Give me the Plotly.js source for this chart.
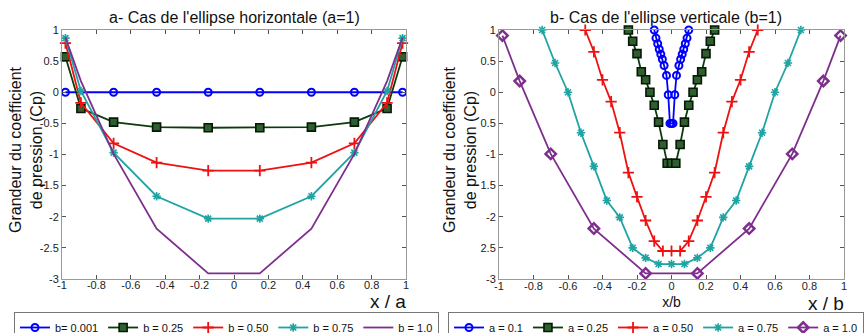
<!DOCTYPE html>
<html>
<head>
<meta charset="utf-8">
<script src="https://cdn.plot.ly/plotly-3.0.1.min.js"></script>
<style>html,body{margin:0;padding:0;background:#fff;}#chart{width:864px;height:333px;}</style>
</head>
<body>
<div id="chart"></div>
<script>
// ---------- Panel a : horizontal ellipse (a = 1) ----------
const xA8  = [-0.98, -0.70, -0.45, -0.15, 0.15, 0.45, 0.70, 0.98];
const xA10 = [-0.98, -0.89, -0.70, -0.45, -0.15, 0.15, 0.45, 0.70, 0.89, 0.98];
const cpB001 = [0, 0, 0, 0, 0, 0, 0, 0];
const cpB025 = [0.57, -0.26, -0.48, -0.56, -0.57, -0.57, -0.56, -0.48, -0.26, 0.57];
const cpB050 = [0.79, -0.17, -0.82, -1.13, -1.26, -1.26, -1.13, -0.82, -0.17, 0.79];
const cpB075 = [0.87, 0.02, -0.97, -1.67, -2.03, -2.03, -1.67, -0.97, 0.02, 0.87];
const cpB100 = [0.88, 0.18, -0.99, -2.19, -2.91, -2.91, -2.19, -0.99, 0.18, 0.88];
const namesA = ["b= 0.001", "b = 0.25", "b = 0.50", "b = 0.75", "b = 1.0"];

// ---------- Panel b : vertical ellipse (b = 1) ----------
const xB01  = [-0.10, -0.09, -0.08, -0.071, -0.062, -0.053, -0.043, -0.029, -0.019, -0.009, 0, 0.009, 0.019, 0.029, 0.043, 0.053, 0.062, 0.071, 0.08, 0.09, 0.10];
const cpA01 = [1.0, 0.87, 0.78, 0.69, 0.61, 0.53, 0.43, 0.27, -0.04, -0.50, -0.50, -0.50, -0.04, 0.27, 0.43, 0.53, 0.61, 0.69, 0.78, 0.87, 1.0];
const xB025 = [-0.25, -0.225, -0.2, -0.175, -0.15, -0.125, -0.1, -0.075, -0.05, -0.025, 0, 0.025, 0.05, 0.075, 0.1, 0.125, 0.15, 0.175, 0.2, 0.225, 0.25];
const cpA025 = [1.0, 0.82, 0.62, 0.33, 0.20, 0.0, -0.21, -0.48, -0.84, -1.14, -1.14, -1.14, -0.84, -0.48, -0.21, 0.0, 0.20, 0.33, 0.62, 0.82, 1.0];
const xB050 = [-0.5, -0.45, -0.4, -0.35, -0.3, -0.25, -0.2, -0.15, -0.1, -0.05, 0, 0.05, 0.1, 0.15, 0.2, 0.25, 0.3, 0.35, 0.4, 0.45, 0.5];
const cpA050 = [1.0, 0.65, 0.20, -0.15, -0.65, -1.29, -1.68, -2.06, -2.39, -2.55, -2.55, -2.55, -2.39, -2.06, -1.68, -1.29, -0.65, -0.15, 0.20, 0.65, 1.0];
const xB075 = [-0.75, -0.675, -0.6, -0.525, -0.45, -0.375, -0.3, -0.225, -0.15, -0.075, 0, 0.075, 0.15, 0.225, 0.3, 0.375, 0.45, 0.525, 0.6, 0.675, 0.75];
const cpA075 = [1.0, 0.47, 0.0, -0.65, -1.19, -1.74, -2.01, -2.50, -2.66, -2.76, -2.76, -2.76, -2.66, -2.50, -2.01, -1.74, -1.19, -0.65, 0.0, 0.47, 1.0];
const xB100 = [-0.98, -0.88, -0.70, -0.45, -0.15, 0.15, 0.45, 0.70, 0.88, 0.98];
const cpA100 = [0.91, 0.18, -0.99, -2.19, -2.91, -2.91, -2.19, -0.99, 0.18, 0.91];
const namesB = ["a = 0.1", "a = 0.25", "a = 0.50", "a = 0.75", "a = 1.0"];

// ---------- ticks ----------
const xTickVals = [-1, -0.8, -0.6, -0.4, -0.2, 0, 0.2, 0.4, 0.6, 0.8, 1];
const xTickText = ["-1", "-0.8", "-0.6", "-0.4", "-0.2", "0", "0.2", "0.4", "0.6", "0.8", "1"];
const yTickVals = [-3, -2.5, -2, -1.5, -1, -0.5, 0, 0.5, 1];
const yTickTextA = ["-3", "-2.5", "-2", "-1.5", "-1", "-0.5", "0", "0.5", "1"];
const yTickTextB = ["-3", "2.5", "-2", "1.5", "-1", "0.5", "0", "0.5", "1"];

const C = {blue: "#0000ff", green: "#0d3a0d", red: "#ee1111", teal: "#1fa3a3", purple: "#7e2f8e"};

function tr(x, y, name, color, marker, xa, ya, leg) {
  const t = {x: x, y: y, name: name, type: "scatter", xaxis: xa, yaxis: ya, legend: leg,
    line: {color: color, width: 1.8}, cliponaxis: false};
  if (marker) { t.mode = "lines+markers"; t.marker = marker; } else { t.mode = "lines"; }
  return t;
}

const mk = {
  circ: {symbol: "circle-open", size: 7, color: C.blue, line: {width: 2, color: C.blue}},
  sq: {symbol: "square", size: 8, color: "#2f5f2f", line: {width: 1.6, color: "#061806"}},
  plus: {symbol: "cross-thin-open", size: 8, color: C.red, line: {width: 1.8, color: C.red}},
  star: {symbol: "asterisk-open", size: 7, color: C.teal, line: {width: 1.6, color: C.teal}},
  dia: {symbol: "diamond-open", size: 8, color: C.purple, line: {width: 2.5, color: C.purple}}
};

const data = [
  tr(xA8, cpB001, namesA[0], C.blue, mk.circ, "x", "y", "legend"),
  tr(xA10, cpB025, namesA[1], C.green, mk.sq, "x", "y", "legend"),
  tr(xA10, cpB050, namesA[2], C.red, mk.plus, "x", "y", "legend"),
  tr(xA10, cpB075, namesA[3], C.teal, mk.star, "x", "y", "legend"),
  tr(xA10, cpB100, namesA[4], C.purple, null, "x", "y", "legend"),
  tr(xB01, cpA01, namesB[0], C.blue, mk.circ, "x2", "y2", "legend2"),
  tr(xB025, cpA025, namesB[1], C.green, mk.sq, "x2", "y2", "legend2"),
  tr(xB050, cpA050, namesB[2], C.red, mk.plus, "x2", "y2", "legend2"),
  tr(xB075, cpA075, namesB[3], C.teal, mk.star, "x2", "y2", "legend2"),
  tr(xB100, cpA100, namesB[4], C.purple, mk.dia, "x2", "y2", "legend2")
];

const FONT = "Arial, 'Liberation Sans', sans-serif";
const L = 62, R = 20, T = 30, B = 54, W = 864, H = 333;
const PW = W - L - R, PH = H - T - B;
const px = p => (p - L) / PW;
const py = p => (H - B - p) / PH;

function xax(domain, ticktext, standoff) {
  return {domain: domain, range: [-1, 1], tickmode: "array", tickvals: xTickVals, ticktext: ticktext,
    ticks: "inside", ticklen: 4, tickcolor: "#555", showline: true, linecolor: "#999", linewidth: 1,
    mirror: "ticks", showgrid: false, zeroline: false, ticklabelstandoff: standoff,
    tickfont: {family: FONT, size: 11, color: "#222"}};
}
function yax(anchor, ticktext) {
  return {anchor: anchor, range: [-3, 1], tickmode: "array", tickvals: yTickVals, ticktext: ticktext,
    ticks: "inside", ticklen: 4, tickcolor: "#555", showline: true, linecolor: "#999", linewidth: 1,
    mirror: "ticks", showgrid: false, zeroline: false, tickfont: {family: FONT, size: 11, color: "#222"}};
}

const xaxis = xax([0, px(406)], xTickText, -4); xaxis.anchor = "y";
const xaxis2 = xax([px(499), 1], xTickText, -3); xaxis2.anchor = "y2";
xaxis2.title = {text: "x/b", font: {family: FONT, size: 14, color: "#111"}, standoff: 5};

const legBase = {orientation: "h", bgcolor: "#fff", bordercolor: "#777", borderwidth: 1,
  font: {family: FONT, size: 11, color: "#111"}, yanchor: "top", xanchor: "left", itemclick: false};

const layout = {
  width: W, height: H,
  margin: {l: L, r: R, t: T, b: B, autoexpand: false},
  paper_bgcolor: "#fff", plot_bgcolor: "#fff",
  font: {family: FONT},
  xaxis: xaxis, yaxis: yax("x", yTickTextA),
  xaxis2: xaxis2, yaxis2: yax("x2", yTickTextB),
  legend: Object.assign({}, legBase, {x: px(14), y: py(312)}),
  legend2: Object.assign({}, legBase, {x: px(448), y: py(312)}),
  annotations: [
    {text: "a- Cas de l'ellipse horizontale (a=1)", xref: "paper", yref: "paper", x: px(234), y: py(17),
      xanchor: "center", yanchor: "middle", showarrow: false, font: {family: FONT, size: 16, color: "#111"}},
    {text: "b- Cas de l'ellipse verticale (b=1)", xref: "paper", yref: "paper", x: px(666), y: py(17),
      xanchor: "center", yanchor: "middle", showarrow: false, font: {family: FONT, size: 16, color: "#111"}},
    {text: "Grandeur du coefficient<br>de pression (Cp)", xref: "paper", yref: "paper", x: px(26), y: py(150),
      xanchor: "center", yanchor: "middle", textangle: -90, showarrow: false,
      font: {family: FONT, size: 16, color: "#111"}},
    {text: "Grandeur du coefficient<br>de pression (Cp)", xref: "paper", yref: "paper", x: px(460), y: py(150),
      xanchor: "center", yanchor: "middle", textangle: -90, showarrow: false,
      font: {family: FONT, size: 16, color: "#111"}},
    {text: "x / a", xref: "paper", yref: "paper", x: px(388), y: py(301),
      xanchor: "center", yanchor: "middle", showarrow: false, font: {family: FONT, size: 19, color: "#111"}},
    {text: "x / b", xref: "paper", yref: "paper", x: px(826), y: py(303),
      xanchor: "center", yanchor: "middle", showarrow: false, font: {family: FONT, size: 19, color: "#111"}}
  ]
};

Plotly.newPlot("chart", data, layout, {staticPlot: true, displayModeBar: false});
</script>
</body>
</html>
